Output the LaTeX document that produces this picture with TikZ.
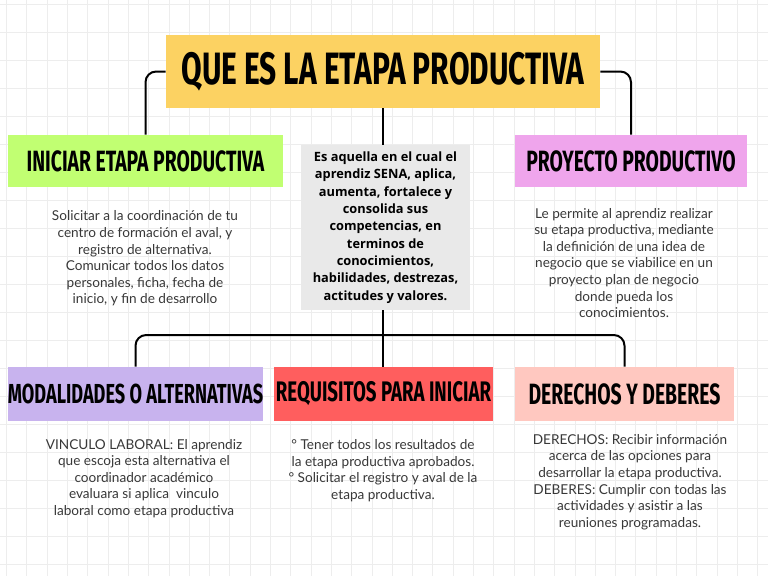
\documentclass[tikz,border=0pt]{standalone}
\usepackage{fontspec}
\setmainfont{Lato}
\newfontfamily\headfont[FakeStretch=0.66]{Fira Sans}
\newfontfamily\boldfont{Open Sans}
\definecolor{titleyellow}{HTML}{FCD262}
\definecolor{limegreen}{HTML}{C1FF72}
\definecolor{orchid}{HTML}{EFA5EC}
\definecolor{lightgray}{HTML}{E9E9E9}
\definecolor{lavender}{HTML}{C8B3EE}
\definecolor{coral}{HTML}{FF5E5E}
\definecolor{peach}{HTML}{FFC8C0}
\definecolor{gridgray}{HTML}{EDEDED}

\tikzset{
  head/.style={inner sep=0pt, align=center, text=black,
    font=\headfont\bfseries\fontsize{22}{22}\selectfont},
  note/.style={align=center, inner sep=0pt, text=black!78,
    font=\fontsize{10.2}{12.45}\selectfont},
  link/.style={line width=1.5pt, rounded corners=8pt},
  gridline/.style={gridgray, line width=0.5pt}
}

\begin{document}
\begin{tikzpicture}[x=0.75pt, y=-0.75pt]
            \useasboundingbox (0,0) rectangle (768,576);
            \fill[white] (0,0) rectangle (768,576);
            \foreach \gx in {0,...,37} \draw[gridline] ({6.5+20.3*\gx},0) -- ({6.5+20.3*\gx},576);
            \foreach \gy in {0,...,20} \draw[gridline] (0,{4+28*\gy}) -- (768,{4+28*\gy});

            \node[head, fill=titleyellow, minimum width=325.5pt, minimum height=54.75pt,
              font=\headfont\bfseries\fontsize{34}{34}\selectfont] (title) at (383,71.5) {QUE ES LA ETAPA PRODUCTIVA};
            \node[head, fill=limegreen, minimum width=206.25pt, minimum height=39pt] (iniciar) at (145.5,161) {INICIAR ETAPA PRODUCTIVA};
            \node[head, fill=orchid, minimum width=174pt, minimum height=39pt] (proyecto) at (631,161) {PROYECTO PRODUCTIVO};
            \node[fill=lightgray, minimum width=126.75pt, minimum height=123.75pt, align=center, inner sep=0pt,
              font=\boldfont\bfseries\fontsize{9.6}{13}\selectfont] (defin) at (385.5,227.5)
              {Es aquella en el cual el\\aprendiz SENA, aplica,\\aumenta, fortalece y\\consolida sus\\competencias, en\\terminos de\\conocimientos,\\habilidades, destrezas,\\actitudes y valores.};
            \node[head, fill=lavender, minimum width=191.25pt, minimum height=40.5pt,
              font=\headfont\bfseries\fontsize{20.6}{20.6}\selectfont] (modal) at (135.5,394) {MODALIDADES O ALTERNATIVAS};
            \node[head, fill=coral, minimum width=164.25pt, minimum height=40.5pt,
              font=\headfont\bfseries\fontsize{21.2}{21.2}\selectfont] (requis) at (383.5,394) {REQUISITOS PARA INICIAR};
            \node[head, fill=peach, minimum width=164.25pt, minimum height=40.5pt] (derech) at (624.5,394) {DERECHOS Y DEBERES};

            \node[note] (iniciartxt) at (145,258.5) {Solicitar a la coordinación de tu\\centro de formación el aval, y\\registro de alternativa.\\Comunicar todos los datos\\personales, ficha, fecha de\\inicio, y fin de desarrollo};
            \node[note] (proyectotxt) at (624,263) {Le permite al aprendiz realizar\\su etapa productiva, mediante\\la definición de una idea de\\negocio que se viabilice en un\\proyecto plan de negocio\\donde pueda los\\conocimientos.};
            \node[note] (modaltxt) at (144,478.5) {VINCULO LABORAL: El aprendiz\\que escoja esta alternativa el\\coordinador académico\\evaluara si aplica\ \ vinculo\\laboral como etapa productiva};
            \node[note] (requistxt) at (383,470.5) {° Tener todos los resultados de\\la etapa productiva aprobados.\\° Solicitar el registro y aval de la\\etapa productiva.};
            \node[note] (derechtxt) at (630,482) {DERECHOS: Recibir información\\acerca de las opciones para\\desarrollar la etapa productiva.\\DEBERES: Cumplir con todas las\\actividades y asistir a las\\reuniones programadas.};

            \coordinate (split) at (383,335);
            \draw[link] (title.west) -| (iniciar.north);
            \draw[link] (title.east) -| (proyecto.north);
            \draw[link] (title.south) -- (title.south |- defin.north);
            \draw[link] (defin.south -| split) -- (requis.north -| split);
            \draw[link] (modal.north) |- (split) -| (derech.north);
        \end{tikzpicture}
\end{document}
